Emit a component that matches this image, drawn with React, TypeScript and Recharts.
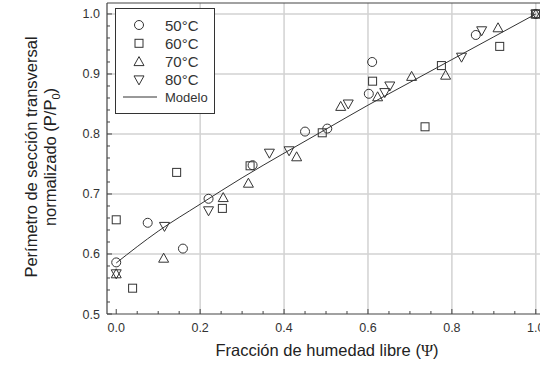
import React from "react";
import { ComposedChart, XAxis, YAxis, CartesianGrid, Scatter, Line, Legend } from "recharts";

// fracción de humedad libre (Psi) y perímetro normalizado (P/P0) por temperatura
const psi50 = [0, 0.075, 0.159, 0.22, 0.325, 0.45, 0.503, 0.602, 0.61, 0.857, 1.0];
const p50 = [0.586, 0.652, 0.609, 0.692, 0.748, 0.804, 0.809, 0.867, 0.92, 0.965, 1.0];

const psi60 = [0, 0.039, 0.144, 0.253, 0.319, 0.491, 0.611, 0.736, 0.775, 0.914, 1.0];
const p60 = [0.657, 0.543, 0.736, 0.676, 0.747, 0.802, 0.888, 0.812, 0.914, 0.946, 1.0];

const psi70 = [0, 0.113, 0.255, 0.315, 0.43, 0.535, 0.623, 0.704, 0.785, 0.91, 1.0];
const p70 = [0.567, 0.593, 0.694, 0.718, 0.762, 0.846, 0.862, 0.896, 0.898, 0.977, 1.0];

const psi80 = [0, 0.115, 0.22, 0.365, 0.412, 0.553, 0.64, 0.652, 0.823, 0.871, 1.0];
const p80 = [0.567, 0.646, 0.672, 0.768, 0.772, 0.85, 0.869, 0.88, 0.928, 0.972, 1.0];

const modelPsi = [0, 0.1, 0.2, 0.3, 0.4, 0.5, 0.6, 0.7, 0.8, 0.9, 1.0];
const modelP = [0.585, 0.638, 0.683, 0.727, 0.768, 0.808, 0.848, 0.886, 0.924, 0.962, 1.0];

const seriesNames = ["50°C", "60°C", "70°C", "80°C"];
const modelName = "Modelo";

const xMajor = [0, 0.2, 0.4, 0.6, 0.8, 1.0];
const yMajor = [0.5, 0.6, 0.7, 0.8, 0.9, 1.0];

const xTicks: number[] = [];
for (let i = 0; i <= 20; i++) xTicks.push(+(i * 0.05).toFixed(2));
const yTicks: number[] = [];
for (let i = 0; i <= 25; i++) yTicks.push(+(0.5 + i * 0.02).toFixed(2));

const pairs = (xs: number[], ys: number[]) => xs.map((x, i) => ({ x, y: ys[i] }));

const FONT = "'Liberation Sans', Arial, sans-serif";
const INK = "#333";
const AXIS = "#444";

const isMajor = (v: number, list: number[]) => list.some((m) => Math.abs(m - v) < 1e-6);

const BottomTick = (props: any) => {
  const { x, y, payload } = props;
  const major = isMajor(payload.value, xMajor);
  return (
    <g>
      <line x1={x} x2={x} y1={y} y2={y - (major ? 5 : 3)} stroke={AXIS} strokeWidth={1} />
      {major && (
        <text x={x} y={y + 18} textAnchor="middle" fontSize={12.5} fontFamily={FONT} fill={INK}>
          {payload.value.toFixed(1)}
        </text>
      )}
    </g>
  );
};

const TopTick = (props: any) => {
  const { x, y, payload } = props;
  const major = isMajor(payload.value, xMajor);
  return <line x1={x} x2={x} y1={y} y2={y + (major ? 5 : 3)} stroke={AXIS} strokeWidth={1} />;
};

const LeftTick = (props: any) => {
  const { x, y, payload } = props;
  const major = isMajor(payload.value, yMajor);
  return (
    <g>
      <line x1={x} x2={x + (major ? 5 : 3)} y1={y} y2={y} stroke={AXIS} strokeWidth={1} />
      {major && (
        <text x={x - 7} y={y + 4.5} textAnchor="end" fontSize={12.5} fontFamily={FONT} fill={INK}>
          {payload.value.toFixed(1)}
        </text>
      )}
    </g>
  );
};

const Circle = (p: any) => <circle cx={p.cx} cy={p.cy} r={4.5} fill="none" stroke={INK} strokeWidth={1} />;
const Square = (p: any) => (
  <rect x={p.cx - 4} y={p.cy - 4} width={8} height={8} fill="none" stroke={INK} strokeWidth={1} />
);
const TriUp = (p: any) => (
  <polygon
    points={`${p.cx},${p.cy - 5} ${p.cx + 5},${p.cy + 4} ${p.cx - 5},${p.cy + 4}`}
    fill="none"
    stroke={INK}
    strokeWidth={1}
  />
);
const TriDown = (p: any) => (
  <polygon
    points={`${p.cx - 5},${p.cy - 4} ${p.cx + 5},${p.cy - 4} ${p.cx},${p.cy + 5}`}
    fill="none"
    stroke={INK}
    strokeWidth={1}
  />
);

const shapes = [Circle, Square, TriUp, TriDown];

const LegendBox = () => (
  <svg width={100} height={106} style={{ display: "block" }}>
    <rect x={0.5} y={0.5} width={99} height={105} fill="#fff" stroke={INK} strokeWidth={1} />
    {seriesNames.map((name, i) => {
      const cy = 17 + i * 18.3;
      const Shape = shapes[i];
      return (
        <g key={name}>
          <Shape cx={24} cy={cy} />
          <text x={50} y={cy + 5.5} fontSize={15} fontFamily={FONT} fill={INK}>
            {name}
          </text>
        </g>
      );
    })}
    <line x1={8} x2={42} y1={89} y2={89} stroke={INK} strokeWidth={1} />
    <text x={50} y={93.5} fontSize={13} fontFamily={FONT} fill={INK}>
      {modelName}
    </text>
  </svg>
);

const YTitle = () => (
  <g fontFamily={FONT} fontSize={16.5} fill="#222" textAnchor="middle">
    <text transform="translate(37,157) rotate(-90)">Perímetro de sección transversal</text>
    <text transform="translate(56,157) rotate(-90)">
      normalizado (P/P<tspan fontSize={11} dy={4}>0</tspan>
      <tspan dy={-4}>)</tspan>
    </text>
  </g>
);

const XTitle = () => (
  <text x={327} y={356} textAnchor="middle" fontFamily={FONT} fontSize={16.5} fill="#222">
    Fracción de humedad libre (<tspan fontFamily="'Liberation Serif', serif">Ψ</tspan>)
  </text>
);

export default function App() {
  return (
    <div style={{ position: "absolute", left: 0, top: 0 }}>
      <ComposedChart width={540} height={371} margin={{ top: 0, right: 0, bottom: 0, left: 0 }}>
        <CartesianGrid
          verticalValues={xMajor.slice(1)}
          horizontalValues={yMajor.slice(1)}
          stroke="#d2d2d2"
          strokeWidth={1.5}
        />
        <XAxis
          dataKey="x"
          type="number"
          domain={[-0.022, 1.01]}
          allowDataOverflow
          ticks={xTicks}
          interval={0}
          tickSize={0}
          tickMargin={0}
          tickLine={false}
          tick={<BottomTick />}
          height={57}
          axisLine={{ stroke: AXIS, strokeWidth: 1.2 }}
          label={{ content: () => <XTitle /> }}
        />
        <XAxis
          xAxisId="top"
          orientation="top"
          type="number"
          domain={[-0.022, 1.01]}
          allowDataOverflow
          ticks={xTicks}
          interval={0}
          tickSize={0}
          tickMargin={0}
          tickLine={false}
          tick={<TopTick />}
          height={3}
          axisLine={{ stroke: AXIS, strokeWidth: 1.2 }}
        />
        <YAxis
          dataKey="y"
          type="number"
          domain={[0.5, 1.0183]}
          allowDataOverflow
          ticks={yTicks}
          interval={0}
          tickSize={0}
          tickMargin={0}
          tickLine={false}
          tick={<LeftTick />}
          width={107}
          axisLine={{ stroke: AXIS, strokeWidth: 1.2 }}
          label={{ content: () => <YTitle /> }}
        />
        <Line
          data={pairs(modelPsi, modelP)}
          dataKey="y"
          type="monotone"
          stroke={INK}
          strokeWidth={1}
          dot={false}
          activeDot={false}
          isAnimationActive={false}
          name={modelName}
        />
        <Scatter data={pairs(psi50, p50)} dataKey="y" name={seriesNames[0]} shape={Circle} isAnimationActive={false} />
        <Scatter data={pairs(psi60, p60)} dataKey="y" name={seriesNames[1]} shape={Square} isAnimationActive={false} />
        <Scatter data={pairs(psi70, p70)} dataKey="y" name={seriesNames[2]} shape={TriUp} isAnimationActive={false} />
        <Scatter data={pairs(psi80, p80)} dataKey="y" name={seriesNames[3]} shape={TriDown} isAnimationActive={false} />
        <Legend
          layout="horizontal"
          verticalAlign="middle"
          align="center"
          content={() => <LegendBox />}
          wrapperStyle={{ position: "absolute", left: 115, top: 8, width: 100, height: 106 }}
        />
      </ComposedChart>
    </div>
  );
}
